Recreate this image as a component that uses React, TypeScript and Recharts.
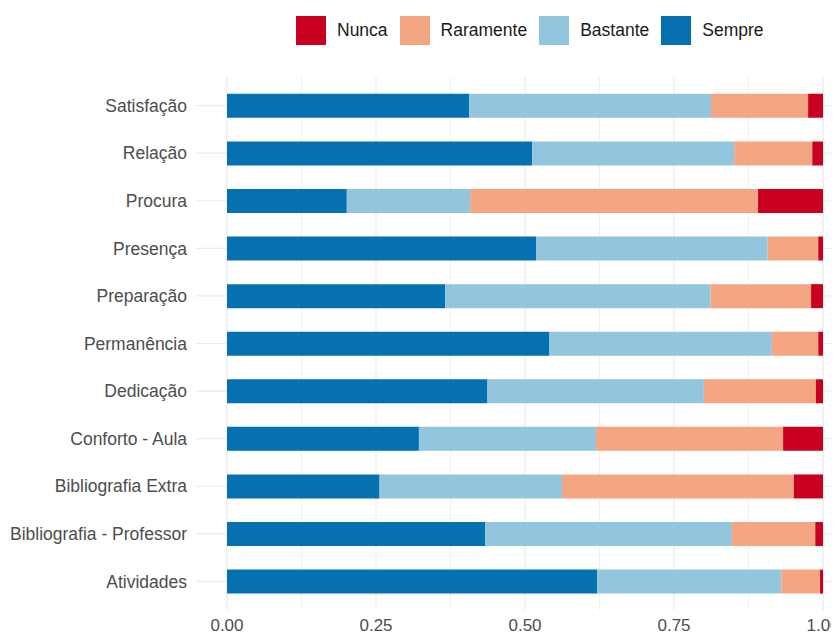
import React from 'react';
import { BarChart, Bar, XAxis, YAxis, CartesianGrid, Legend } from 'recharts';

const categories = [
  'Satisfação',
  'Relação',
  'Procura',
  'Presença',
  'Preparação',
  'Permanência',
  'Dedicação',
  'Conforto - Aula',
  'Bibliografia Extra',
  'Bibliografia - Professor',
  'Atividades',
];

const sempre = [0.406, 0.512, 0.201, 0.519, 0.366, 0.541, 0.437, 0.322, 0.256, 0.433, 0.621];
const bastante = [0.406, 0.339, 0.207, 0.388, 0.445, 0.373, 0.363, 0.297, 0.306, 0.414, 0.309];
const raramente = [0.163, 0.131, 0.483, 0.085, 0.169, 0.078, 0.188, 0.314, 0.389, 0.140, 0.065];
const nunca = [0.025, 0.018, 0.109, 0.008, 0.020, 0.008, 0.012, 0.067, 0.049, 0.013, 0.005];

const xTicks = [0, 0.25, 0.5, 0.75, 1];
const xMinorTicks = [0.125, 0.375, 0.625, 0.875];

const seriesList = [
  { key: 'Sempre', color: '#0571B0' },
  { key: 'Bastante', color: '#92C5DE' },
  { key: 'Raramente', color: '#F4A582' },
  { key: 'Nunca', color: '#CA0020' },
];

const data = categories.map((name, i) => ({
  name,
  Sempre: sempre[i],
  Bastante: bastante[i],
  Raramente: raramente[i],
  Nunca: nunca[i],
}));

const FONT = '"Liberation Sans", Arial, Helvetica, sans-serif';

const applyScale = (axis: any, v: number): number => {
  const sc = axis && axis.scale;
  if (!sc) return -100;
  if (typeof sc === 'function') return sc(v);
  if (typeof sc.map === 'function') return sc.map(v);
  if (typeof sc.apply === 'function') return sc.apply(v);
  return -100;
};

const LegendContent = () => {
  const items = [...seriesList].reverse();
  return (
    <div style={{ display: 'flex', alignItems: 'center', height: 29, fontFamily: FONT }}>
      {items.map((it) => (
        <div key={it.key} style={{ display: 'flex', alignItems: 'center', marginRight: 12 }}>
          <div style={{ width: 30, height: 29, background: it.color, marginRight: 11 }} />
          <span style={{ fontSize: 17.5, color: '#1A1A1A', lineHeight: '29px' }}>{it.key}</span>
        </div>
      ))}
    </div>
  );
};

export default function App() {
  return (
    <div style={{ width: 831, height: 628 }}>
      <BarChart
        width={831}
        height={628}
        data={data}
        layout="vertical"
        margin={{ top: 40, right: 0, bottom: 0, left: 0 }}
      >
        <CartesianGrid stroke="#EBEBEB" strokeWidth={1.2} syncWithTicks />
        <CartesianGrid
          stroke="#EBEBEB"
          strokeWidth={0.8}
          horizontal={false}
          syncWithTicks
          verticalCoordinatesGenerator={({ xAxis }: any) => xMinorTicks.map((v) => applyScale(xAxis, v))}
        />
        <XAxis
          type="number"
          domain={[-0.052, 1.0268]}
          allowDataOverflow
          ticks={xTicks}
          interval={0}
          tickFormatter={(v: number) => v.toFixed(2)}
          axisLine={false}
          tickLine={false}
          tickSize={6}
          tickMargin={3}
          height={26}
          tick={{ fill: '#4D4D4D', fontSize: 17, fontFamily: FONT }}
        />
        <YAxis
          type="category"
          dataKey="name"
          width={188}
          interval={0}
          axisLine={false}
          tickLine={false}
          tickSize={6}
          tickMargin={3}
          padding={{ top: 4.8, bottom: 4.8 }}
          tick={{ fill: '#4D4D4D', fontSize: 17.5, fontFamily: FONT }}
        />
        <Legend
          verticalAlign="top"
          content={() => <LegendContent />}
          wrapperStyle={{ top: 8, left: 288, width: 'auto', height: 29 }}
        />
        {seriesList.map((s) => (
          <Bar
            key={s.key}
            dataKey={s.key}
            stackId="a"
            fill={s.color}
            barSize={24}
            isAnimationActive={false}
          />
        ))}
      </BarChart>
    </div>
  );
}
